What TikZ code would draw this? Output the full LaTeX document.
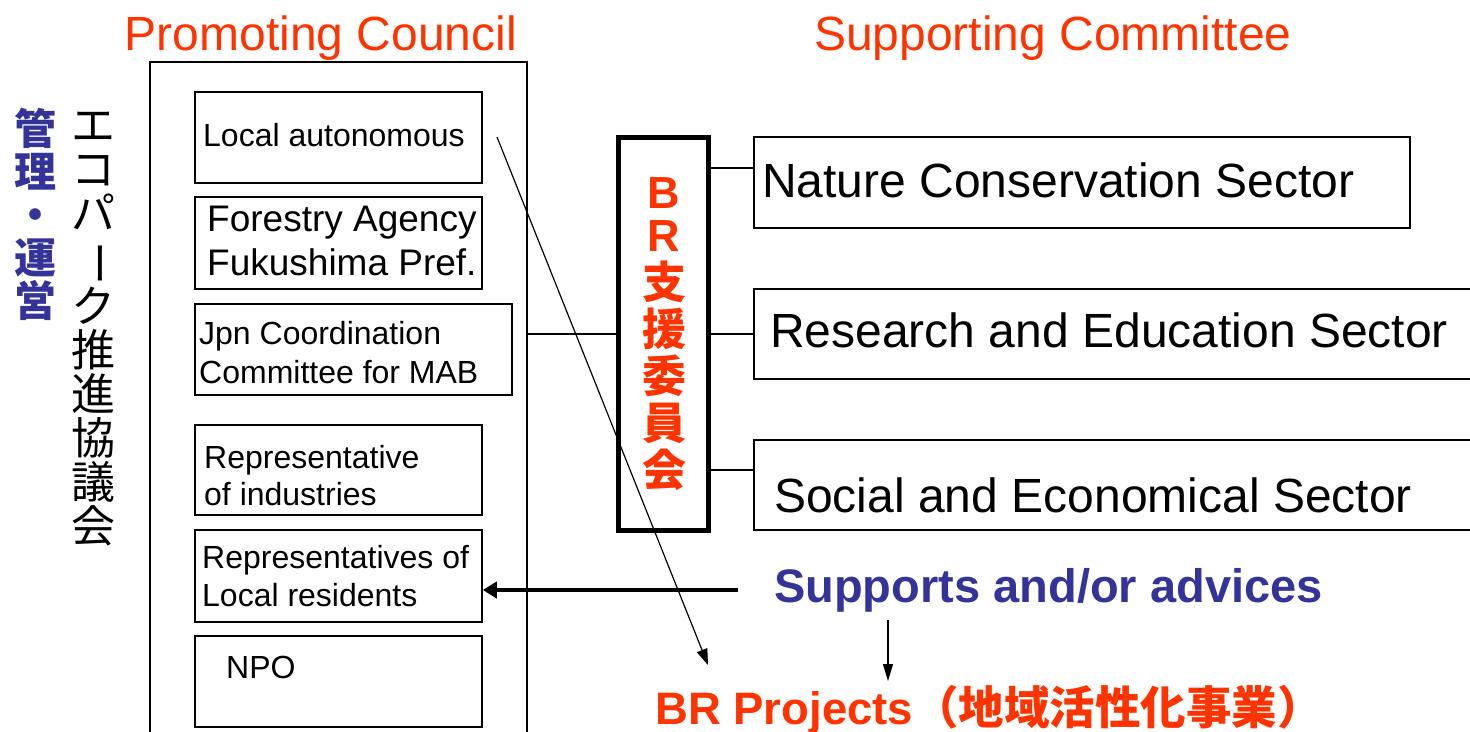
\documentclass[tikz,border=0pt]{standalone}
\usepackage{fontspec}
\setmainfont{Liberation Sans}
\newfontfamily\jp{Noto Sans CJK JP}
\usetikzlibrary{arrows.meta}
\definecolor{rorange}{HTML}{FF3300}
\definecolor{nblue}{HTML}{333399}
\begin{document}
\begin{tikzpicture}[x=1pt,y=-1pt,
  box/.style={draw, line width=1.5pt, inner sep=0},
  lbl/.style={anchor=base west, inner sep=0, font=\fontsize{32}{32}\selectfont},
  lblb/.style={anchor=base west, inner sep=0, font=\fontsize{37}{37}\selectfont},
  sect/.style={anchor=base west, inner sep=0, font=\fontsize{48}{48}\selectfont},
  ttl/.style={text=rorange, anchor=base, inner sep=0, font=\fontsize{48}{48}\selectfont},
  conn/.style={line width=1.5pt},
  vtext/.style={align=center, inner sep=0}]
\useasboundingbox (0,0) rectangle (1470,731);
\clip (0,0) rectangle (1470,731);
% titles
\node[ttl] (tpc) at (321,50) {Promoting Council};
\node[ttl] (tsc) at (1053,50) {Supporting Committee};
% vertical labels
\node[vtext, text=nblue, font=\jp\bfseries\fontsize{42}{43}\selectfont] (mg) at (35,214) {管\\理\\・\\運\\営};
\node[vtext, font=\jp\fontsize{44}{44}\selectfont] (eco) at (93,329) {エ\\コ\\パ\\\rotatebox[origin=c]{-90}{ー}\\ク\\推\\進\\協\\議\\会};
% promoting council boxes
\node[box, minimum width=377pt, minimum height=698pt] (pc) at (338.5,411) {};
\node[box, minimum width=287pt, minimum height=91pt] (la) at (338.5,137.5) {};
\node[box, minimum width=287pt, minimum height=92pt] (fa) at (338.5,243) {};
\node[box, minimum width=317pt, minimum height=91pt] (jc) at (353.5,349.5) {};
\node[box, minimum width=287pt, minimum height=90pt] (ri) at (338.5,470) {};
\node[box, minimum width=287pt, minimum height=92pt] (rl) at (338.5,576) {};
\node[box, minimum width=287pt, minimum height=91pt] (npo) at (338.5,681.5) {};
\node[lbl] (tla) at (203,146) {Local autonomous};
\node[lblb] (tfa1) at (207,231) {Forestry Agency};
\node[lblb] (tfa2) at (207,275) {Fukushima Pref.};
\node[lbl] (tjc1) at (199,344) {Jpn Coordination};
\node[lbl] (tjc2) at (199,383) {Committee for MAB};
\node[lbl] (tri1) at (204,468) {Representative};
\node[lbl] (tri2) at (204,505) {of industries};
\node[lbl] (trl1) at (202,568) {Representatives of};
\node[lbl] (trl2) at (202,606) {Local residents};
\node[lbl] (tnpo) at (226,678) {NPO};
% BR support committee
\node[draw, line width=5pt, minimum width=90pt, minimum height=393pt, inner sep=0] (br) at (663.5,334) {};
\node[vtext, text=rorange, font=\jp\bfseries\fontsize{44}{47}\selectfont] (brt) at (664,334)
  {{\normalfont\bfseries\fontsize{45}{47}\selectfont B}\\[-4pt]{\normalfont\bfseries\fontsize{45}{47}\selectfont R}\\支\\援\\委\\員\\会};
% sector boxes
\node[box, minimum width=656pt, minimum height=91pt] (ns) at (1082,182.5) {};
\node[box, minimum width=736pt, minimum height=90pt] (re) at (1122,334) {};
\node[box, minimum width=736pt, minimum height=90pt] (se) at (1122,485) {};
\node[sect] (tns) at (762,197) {Nature Conservation Sector};
\node[sect] (tre) at (770,347) {Research and Education Sector};
\node[sect] (tse) at (774,512) {Social and Economical Sector};
% connectors
\draw[conn] (br.west) -- (br.west -| pc.east);
\draw[conn] (br.east |- 0,168) -- (ns.west |- 0,168);
\draw[conn] (br.east) -- (re.west);
\draw[conn] (br.east |- 0,470) -- (se.west |- 0,470);
% supports / projects
\node[anchor=base west, inner sep=0, text=nblue, font=\bfseries\fontsize{47}{47}\selectfont] (sup) at (774,602) {Supports and/or advices};
\node[anchor=base west, inner sep=0, text=rorange, font=\bfseries\fontsize{45.5}{45.5}\selectfont] (brp) at (655,724) {BR Projects{\jp （地域活性化事業）}};
\coordinate (ds) at (497,137);
\coordinate (de) at (708,665);
\draw[line width=1.2pt, -{Triangle[length=16pt,width=11pt]}] (ds) -- (de);
\coordinate (ts) at (738,590);
\draw[line width=4.5pt, -{Triangle[length=14pt,width=16pt]}] (ts) -- (rl.east |- ts);
\coordinate (vs) at (888,620);
\coordinate (ve) at (888,681);
\draw[line width=1.2pt, -{Triangle[length=17pt,width=10pt]}] (vs) -- (ve);
\end{tikzpicture}
\end{document}
